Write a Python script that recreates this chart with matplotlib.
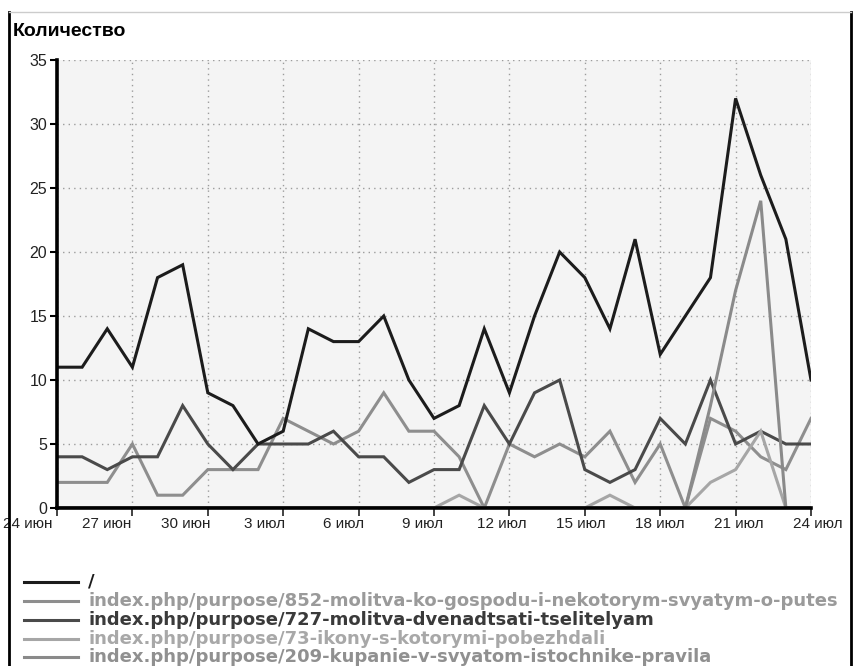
import numpy as np
import matplotlib
matplotlib.use('Agg')
import matplotlib.pyplot as plt
from matplotlib.lines import Line2D
from matplotlib import transforms

# days 24 июн .. 24 июл
days = np.arange(31)
tick_days = [0, 3, 6, 9, 12, 15, 18, 21, 24, 27, 30]
tick_labels = ['24 июн', '27 июн', '30 июн', '3 июл', '6 июл', '9 июл',
               '12 июл', '15 июл', '18 июл', '21 июл', '24 июл']

root = [11, 11, 14, 11, 18, 19, 9, 8, 5, 6, 14, 13, 13, 15, 10, 7,
        8, 14, 9, 15, 20, 18, 14, 21, 12, 15, 18, 32, 26, 21, 10]
p852 = [2, 2, 2, 5, 1, 1, 3, 3, 3, 7, 6, 5, 6, 9, 6, 6,
        4, 0, 5, 4, 5, 4, 6, 2, 5, 0, 7, 6, 4, 3, 7]
p727 = [4, 4, 3, 4, 4, 8, 5, 3, 5, 5, 5, 6, 4, 4, 2, 3,
        3, 8, 5, 9, 10, 3, 2, 3, 7, 5, 10, 5, 6, 5, 5]
p73 = [0, 0, 0, 0, 0, 0, 0, 0, 0, 0, 0, 0, 0, 0, 0, 0,
       1, 0, 0, 0, 0, 0, 1, 0, 0, 0, 2, 3, 6, 0, 0]
p209 = [0, 0, 0, 0, 0, 0, 0, 0, 0, 0, 0, 0, 0, 0, 0, 0,
        0, 0, 0, 0, 0, 0, 0, 0, 0, 0, 8, 17, 24, 0, 0]

names = ['/',
         'index.php/purpose/852-molitva-ko-gospodu-i-nekotorym-svyatym-o-putes',
         'index.php/purpose/727-molitva-dvenadtsati-tselitelyam',
         'index.php/purpose/73-ikony-s-kotorymi-pobezhdali',
         'index.php/purpose/209-kupanie-v-svyatom-istochnike-pravila']
series = [root, p852, p727, p73, p209]
colors = ['#1c1c1c', '#8e8e8e', '#4a4a4a', '#a6a6a6', '#8a8a8a']
text_colors = ['#1c1c1c', '#9a9a9a', '#3a3a3a', '#a8a8a8', '#909090']

plt.rcParams['font.family'] = ['Liberation Sans', 'DejaVu Sans']

W, H = 855, 666
fig = plt.figure(figsize=(W / 100, H / 100), dpi=100)
ax = fig.add_axes([57 / W, 1 - 508 / H, (811 - 57) / W, (508 - 60) / H])
ax.set_facecolor('#f4f4f4')

# draw light ones first, black on top
for i in [4, 3, 1, 2, 0]:
    ax.plot(days, series[i], color=colors[i], lw=2.2, zorder=3 + i * 0.1 if i else 4,
            solid_joinstyle='miter')

ax.set_xlim(0, 30)
ax.set_ylim(0, 35)
ax.set_yticks(range(0, 36, 5))
ax.set_xticks(tick_days)
ax.set_xticklabels([])
ax.grid(True, color='#9c9c9c', linestyle=(0, (1, 3)), linewidth=1)
ax.set_axisbelow(True)

for s in ['top', 'right']:
    ax.spines[s].set_visible(False)
for s in ['left', 'bottom']:
    ax.spines[s].set_linewidth(2.6)
    ax.spines[s].set_color('black')
    ax.spines[s].set_zorder(5)

ax.tick_params(axis='y', direction='out', length=5, width=1.5, color='black',
               labelsize=11.5, labelcolor='#222222', pad=2)
ax.tick_params(axis='x', direction='out', length=6, width=1.2, color='#222222')

# x labels: original spreads them a bit wider than the ticks
blend = transforms.blended_transform_factory(ax.transData, ax.transAxes)
for i, (d, lab) in enumerate(zip(tick_days, tick_labels)):
    dx = (-29 + i * 3.6) / 100
    off = transforms.ScaledTranslation(dx, -16 / 100, fig.dpi_scale_trans)
    ax.text(d, 0, lab, transform=blend + off, ha='center', va='center',
            fontsize=11, color='#222222', clip_on=False)

fig.text(13 / W, 1 - 31 / H, 'Количество', fontsize=14, fontweight='bold',
         color='black', va='center', ha='left')

# legend drawn by hand, like the original
rows = [582, 601, 620, 639, 657]
for i in range(5):
    y = 1 - rows[i] / H
    fig.add_artist(Line2D([24 / W, 78 / W], [y, y], color=colors[i], lw=2.2))
    fig.text(88 / W, y, names[i], fontsize=13, fontweight='bold',
             color=text_colors[i], va='center', ha='left', family='DejaVu Sans')

# outer frame
fig.add_artist(Line2D([9 / W, 9 / W], [0, 1 - 12 / H], color='black', lw=2))
fig.add_artist(Line2D([851 / W, 851 / W], [0, 1 - 12 / H], color='black', lw=2))
fig.add_artist(Line2D([9 / W, 851 / W], [1 - 12 / H, 1 - 12 / H], color='#cccccc', lw=1))

fig.savefig('out.png', dpi=100)
